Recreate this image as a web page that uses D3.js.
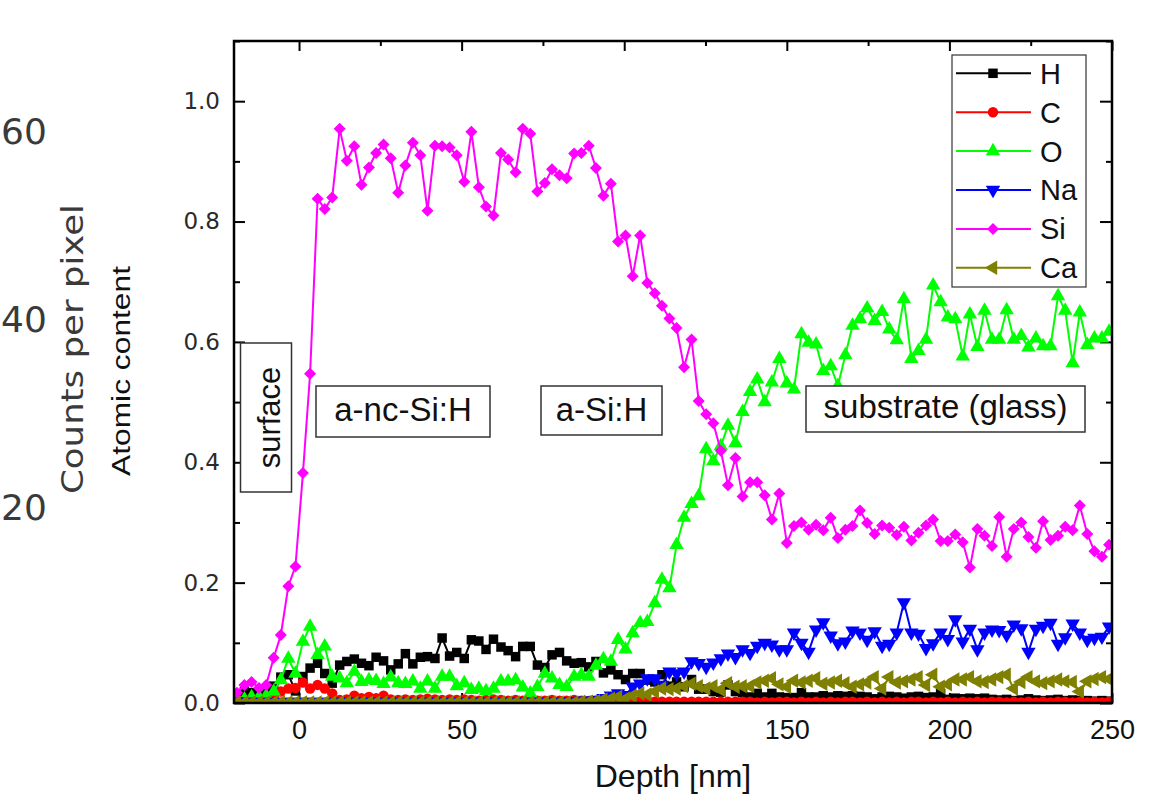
<!DOCTYPE html>
<html>
<head>
<meta charset="utf-8">
<script src="https://cdn.jsdelivr.net/npm/d3@7"></script>
<style>
  html, body { margin: 0; padding: 0; background: #fff; }
  svg { display: block; }
</style>
</head>
<body>
<svg id="chart" width="1164" height="805"></svg>
<script>
// depth of each sputter step [nm]
var depth = [
  -19.1, -16.8, -14.6, -12.3, -10.1, -7.8, -5.6, -3.3, -1.1, 1.2,
  3.4, 5.7, 7.9, 10.2, 12.5, 14.7, 17.0, 19.2, 21.5, 23.7,
  26.0, 28.2, 30.5, 32.7, 35.0, 37.3, 39.5, 41.8, 44.0, 46.3,
  48.5, 50.8, 53.0, 55.3, 57.5, 59.8, 62.1, 64.3, 66.6, 68.8,
  71.1, 73.3, 75.6, 77.8, 80.1, 82.3, 84.6, 86.8, 89.1, 91.3,
  93.6, 95.9, 98.1, 100.4, 102.6, 104.9, 107.1, 109.4, 111.6, 113.9,
  116.1, 118.4, 120.7, 122.9, 125.2, 127.4, 129.7, 131.9, 134.2, 136.4,
  138.7, 140.9, 143.2, 145.4, 147.7, 150.0, 152.2, 154.5, 156.7, 159.0,
  161.2, 163.5, 165.7, 168.0, 170.2, 172.5, 174.7, 177.0, 179.3, 181.5,
  183.8, 186.0, 188.3, 190.5, 192.8, 195.0, 197.3, 199.5, 201.8, 204.1,
  206.3, 208.6, 210.8, 213.1, 215.3, 217.6, 219.8, 222.1, 224.3, 226.6,
  228.8, 231.1, 233.4, 235.6, 237.9, 240.1, 242.4, 244.6, 246.9, 249.1
];

var hydrogen = [
  0.013, 0.019, 0.017, 0.015, 0.019, 0.028, 0.043, 0.047, 0.020, 0.044,
  0.058, 0.066, 0.049, 0.033, 0.063, 0.069, 0.073, 0.066, 0.062, 0.076,
  0.070, 0.055, 0.065, 0.082, 0.065, 0.076, 0.077, 0.074, 0.108, 0.078,
  0.084, 0.074, 0.105, 0.103, 0.089, 0.106, 0.093, 0.087, 0.077, 0.094,
  0.094, 0.063, 0.059, 0.080, 0.084, 0.070, 0.066, 0.067, 0.060, 0.069,
  0.050, 0.055, 0.047, 0.039, 0.049, 0.049, 0.038, 0.035, 0.047, 0.028,
  0.035, 0.027, 0.039, 0.023, 0.023, 0.019, 0.018, 0.030, 0.019, 0.017,
  0.010, 0.016, 0.010, 0.016, 0.010, 0.009, 0.009, 0.017, 0.010, 0.010,
  0.012, 0.010, 0.012, 0.011, 0.012, 0.011, 0.010, 0.007, 0.010, 0.011,
  0.010, 0.008, 0.010, 0.011, 0.009, 0.010, 0.016, 0.006, 0.008, 0.007,
  0.008, 0.007, 0.008, 0.006, 0.005, 0.006, 0.004, 0.005, 0.007, 0.005,
  0.004, 0.005, 0.006, 0.004, 0.005, 0.004, 0.004, 0.003, 0.004, 0.003
];

var carbon = [
  0.004, 0.005, 0.006, 0.005, 0.006, 0.010, 0.019, 0.024, 0.025, 0.034,
  0.024, 0.030, 0.024, 0.016, 0.005, 0.006, 0.012, 0.008, 0.010, 0.008,
  0.012, 0.006, 0.005, 0.006, 0.005, 0.006, 0.007, 0.006, 0.005, 0.006,
  0.005, 0.006, 0.005, 0.004, 0.005, 0.006, 0.005, 0.004, 0.005, 0.004,
  0.005, 0.004, 0.004, 0.005, 0.004, 0.004, 0.005, 0.004, 0.003, 0.004,
  0.004, 0.003, 0.004, 0.003, 0.003, 0.004, 0.003, 0.002, 0.002, 0.002,
  0.002, 0.002, 0.002, 0.002, 0.002, 0.002, 0.002, 0.002, 0.002, 0.002,
  0.002, 0.001, 0.002, 0.001, 0.002, 0.002, 0.001, 0.002, 0.001, 0.002,
  0.001, 0.002, 0.001, 0.002, 0.002, 0.001, 0.002, 0.001, 0.002, 0.001,
  0.002, 0.001, 0.002, 0.002, 0.001, 0.002, 0.001, 0.002, 0.001, 0.002,
  0.001, 0.002, 0.001, 0.002, 0.002, 0.001, 0.002, 0.001, 0.002, 0.001,
  0.002, 0.001, 0.002, 0.002, 0.001, 0.002, 0.001, 0.002, 0.001, 0.002
];

var oxygen = [
  0.005, 0.006, 0.010, 0.010, 0.012, 0.019, 0.038, 0.074, 0.049, 0.102,
  0.127, 0.080, 0.094, 0.044, 0.041, 0.033, 0.052, 0.035, 0.038, 0.037,
  0.032, 0.043, 0.033, 0.032, 0.036, 0.024, 0.036, 0.024, 0.044, 0.044,
  0.028, 0.033, 0.022, 0.024, 0.020, 0.024, 0.036, 0.036, 0.038, 0.026,
  0.016, 0.027, 0.049, 0.041, 0.030, 0.027, 0.044, 0.047, 0.044, 0.062,
  0.073, 0.069, 0.105, 0.089, 0.116, 0.133, 0.135, 0.166, 0.205, 0.191,
  0.263, 0.308, 0.331, 0.344, 0.422, 0.402, 0.427, 0.461, 0.432, 0.484,
  0.517, 0.538, 0.500, 0.533, 0.572, 0.531, 0.521, 0.613, 0.599, 0.596,
  0.552, 0.560, 0.527, 0.578, 0.627, 0.638, 0.656, 0.635, 0.650, 0.621,
  0.603, 0.671, 0.572, 0.585, 0.604, 0.694, 0.666, 0.641, 0.638, 0.576,
  0.646, 0.592, 0.652, 0.604, 0.604, 0.653, 0.604, 0.610, 0.591, 0.606,
  0.593, 0.593, 0.676, 0.652, 0.565, 0.649, 0.595, 0.606, 0.606, 0.617
];

var sodium = [
  0.003, 0.002, 0.002, 0.002, 0.002, 0.002, 0.002, 0.002, 0.002, 0.002,
  0.002, 0.002, 0.002, 0.002, 0.002, 0.002, 0.002, 0.002, 0.002, 0.002,
  0.002, 0.002, 0.002, 0.002, 0.002, 0.002, 0.002, 0.002, 0.002, 0.002,
  0.002, 0.002, 0.002, 0.002, 0.002, 0.002, 0.002, 0.002, 0.002, 0.002,
  0.002, 0.002, 0.002, 0.002, 0.002, 0.003, 0.003, 0.004, 0.004, 0.005,
  0.008, 0.012, 0.016, 0.013, 0.027, 0.032, 0.041, 0.041, 0.030, 0.052,
  0.049, 0.052, 0.069, 0.066, 0.060, 0.067, 0.074, 0.082, 0.076, 0.089,
  0.083, 0.095, 0.100, 0.097, 0.089, 0.089, 0.117, 0.100, 0.085, 0.122,
  0.134, 0.112, 0.099, 0.102, 0.120, 0.117, 0.105, 0.119, 0.095, 0.098,
  0.117, 0.167, 0.117, 0.115, 0.091, 0.099, 0.117, 0.106, 0.139, 0.102,
  0.123, 0.089, 0.117, 0.122, 0.121, 0.113, 0.130, 0.124, 0.085, 0.123,
  0.128, 0.133, 0.098, 0.109, 0.132, 0.117, 0.105, 0.108, 0.110, 0.127
];

var silicon = [
  0.017, 0.030, 0.035, 0.025, 0.030, 0.075, 0.113, 0.194, 0.227, 0.382,
  0.547, 0.838, 0.821, 0.840, 0.954, 0.901, 0.925, 0.861, 0.890, 0.914,
  0.928, 0.905, 0.848, 0.893, 0.931, 0.910, 0.818, 0.926, 0.925, 0.923,
  0.910, 0.866, 0.949, 0.857, 0.825, 0.810, 0.914, 0.903, 0.882, 0.954,
  0.946, 0.850, 0.864, 0.887, 0.877, 0.872, 0.913, 0.914, 0.926, 0.889,
  0.843, 0.863, 0.767, 0.777, 0.709, 0.777, 0.698, 0.681, 0.660, 0.639,
  0.623, 0.558, 0.604, 0.502, 0.480, 0.465, 0.419, 0.362, 0.407, 0.343,
  0.367, 0.367, 0.345, 0.305, 0.348, 0.266, 0.294, 0.300, 0.288, 0.296,
  0.287, 0.308, 0.274, 0.288, 0.294, 0.320, 0.299, 0.281, 0.295, 0.291,
  0.279, 0.293, 0.270, 0.283, 0.295, 0.305, 0.269, 0.269, 0.280, 0.267,
  0.225, 0.289, 0.278, 0.261, 0.309, 0.243, 0.289, 0.300, 0.276, 0.258,
  0.302, 0.271, 0.278, 0.293, 0.287, 0.328, 0.281, 0.252, 0.243, 0.263
];

var calcium = [
  0.001, 0.001, 0.001, 0.001, 0.001, 0.001, 0.001, 0.001, 0.001, 0.001,
  0.001, 0.001, 0.001, 0.001, 0.001, 0.001, 0.001, 0.001, 0.001, 0.001,
  0.001, 0.001, 0.001, 0.001, 0.001, 0.001, 0.001, 0.001, 0.001, 0.001,
  0.001, 0.001, 0.001, 0.001, 0.001, 0.001, 0.001, 0.001, 0.001, 0.001,
  0.001, 0.001, 0.001, 0.001, 0.001, 0.001, 0.001, 0.002, 0.002, 0.003,
  0.006, 0.007, 0.010, 0.007, 0.012, 0.016, 0.014, 0.019, 0.024, 0.023,
  0.024, 0.028, 0.032, 0.028, 0.024, 0.028, 0.022, 0.033, 0.027, 0.028,
  0.028, 0.034, 0.037, 0.041, 0.031, 0.027, 0.037, 0.034, 0.037, 0.041,
  0.032, 0.034, 0.037, 0.033, 0.027, 0.031, 0.034, 0.043, 0.024, 0.043,
  0.034, 0.036, 0.039, 0.043, 0.030, 0.047, 0.027, 0.031, 0.039, 0.039,
  0.043, 0.036, 0.035, 0.039, 0.043, 0.047, 0.024, 0.035, 0.043, 0.036,
  0.033, 0.036, 0.039, 0.036, 0.035, 0.019, 0.036, 0.040, 0.043, 0.040
];

var elements = ['H', 'C', 'O', 'Na', 'Si', 'Ca'];
var elementValues = [hydrogen, carbon, oxygen, sodium, silicon, calcium];
var elementColors = ['#000000', '#ff0000', '#00ff00', '#0000ff', '#ff00ff', '#808000'];

var xTicks = [0, 50, 100, 150, 200, 250];
var yTicks = [0, 0.2, 0.4, 0.6, 0.8, 1.0];
var layerLabels = ['a-nc-Si:H', 'a-Si:H', 'substrate (glass)'];
var surfaceLabel = 'surface';
var countTicks = ['60', '40', '20'];

;(function() {

  var svg = d3.select('#chart');

  var margin = { left: 234, right: 1112, top: 41, bottom: 703 };

  var x = d3.scaleLinear()
    .domain([-20, 250])
    .range([margin.left, margin.right]);

  var y = d3.scaleLinear()
    .domain([0, 1.1])
    .range([margin.bottom, margin.top]);

  // ghost labels left over from the counts plot underneath
  var ghost = svg.append('g')
    .attr('fill', '#3a3a3a')
    .style('font-family', '"DejaVu Sans", sans-serif');

  ghost.selectAll('text.count')
    .data(countTicks)
    .enter()
    .append('text')
    .attr('class', 'count')
    .attr('x', 1)
    .attr('y', function(d, i) { return [131, 319, 507][i]; })
    .attr('dy', '0.36em')
    .style('font-size', '36px')
    .text(function(d) { return d; });

  ghost.append('text')
    .attr('transform', 'translate(83, 349) rotate(-90)')
    .attr('text-anchor', 'middle')
    .attr('textLength', 290)
    .attr('lengthAdjust', 'spacingAndGlyphs')
    .style('font-size', '31px')
    .text('Counts per pixel');

  svg.append('text')
    .attr('transform', 'translate(130, 371) rotate(-90)')
    .attr('text-anchor', 'middle')
    .attr('textLength', 210)
    .attr('lengthAdjust', 'spacingAndGlyphs')
    .style('font-family', '"Liberation Sans", Arial, sans-serif')
    .style('font-size', '25px')
    .attr('fill', '#111')
    .text('Atomic content');

  // axes
  function styleAxis(g) {
    g.select('.domain').remove();
    g.selectAll('.tick line').attr('stroke', '#000').attr('stroke-width', 2);
  }

  var xMinor = [-25, 25, 75, 125, 175, 225].filter(function(d) { return d > -20; });
  var yMinor = [0.1, 0.3, 0.5, 0.7, 0.9, 1.1];

  svg.append('g')
    .attr('transform', 'translate(0,' + margin.bottom + ')')
    .call(d3.axisBottom(x).tickValues(xTicks).tickSize(-10).tickPadding(17).tickFormat(d3.format('d')))
    .call(styleAxis)
    .call(function(g) {
      g.selectAll('text')
        .attr('fill', '#111')
        .style('font-family', '"Liberation Sans", Arial, sans-serif')
        .style('font-size', '27px');
    });

  svg.append('g')
    .attr('transform', 'translate(0,' + margin.bottom + ')')
    .call(d3.axisBottom(x).tickValues(xMinor).tickSize(-5).tickFormat(''))
    .call(styleAxis);

  svg.append('g')
    .attr('transform', 'translate(0,' + margin.top + ')')
    .call(d3.axisTop(x).tickValues(xTicks).tickSize(-10).tickFormat(''))
    .call(styleAxis);

  svg.append('g')
    .attr('transform', 'translate(0,' + margin.top + ')')
    .call(d3.axisTop(x).tickValues(xMinor).tickSize(-5).tickFormat(''))
    .call(styleAxis);

  svg.append('g')
    .attr('transform', 'translate(' + margin.left + ',0)')
    .call(d3.axisLeft(y).tickValues(yTicks).tickSize(-11).tickPadding(14).tickFormat(d3.format('.1f')))
    .call(styleAxis)
    .call(function(g) {
      g.selectAll('text')
        .attr('fill', '#2a2a2a')
        .style('font-family', '"DejaVu Sans", sans-serif')
        .style('font-size', '23px');
    });

  svg.append('g')
    .attr('transform', 'translate(' + margin.left + ',0)')
    .call(d3.axisLeft(y).tickValues(yMinor).tickSize(-6).tickFormat(''))
    .call(styleAxis);

  svg.append('g')
    .attr('transform', 'translate(' + margin.right + ',0)')
    .call(d3.axisRight(y).tickValues(yTicks).tickSize(-12).tickFormat(''))
    .call(styleAxis);

  svg.append('g')
    .attr('transform', 'translate(' + margin.right + ',0)')
    .call(d3.axisRight(y).tickValues(yMinor).tickSize(-6).tickFormat(''))
    .call(styleAxis);

  svg.append('text')
    .attr('x', 673)
    .attr('y', 787)
    .attr('text-anchor', 'middle')
    .attr('fill', '#111')
    .style('font-family', '"Liberation Sans", Arial, sans-serif')
    .style('font-size', '32px')
    .text('Depth [nm]');

  // series
  svg.append('clipPath')
    .attr('id', 'plot-clip')
    .append('rect')
    .attr('x', margin.left)
    .attr('y', margin.top)
    .attr('width', margin.right - margin.left)
    .attr('height', margin.bottom - margin.top);

  var symbols = [
    { type: d3.symbolSquare, size: 90, rotate: 0 },
    { type: d3.symbolCircle, size: 85, rotate: 0 },
    { type: d3.symbolTriangle, size: 90, rotate: 0 },
    { type: d3.symbolTriangle, size: 90, rotate: 180 },
    { type: d3.symbolSquare, size: 72, rotate: 45 },
    { type: d3.symbolTriangle, size: 90, rotate: -90 }
  ];

  var series = elements.map(function(name, k) {
    return {
      name: name,
      color: elementColors[k],
      symbol: symbols[k],
      points: depth.map(function(d, i) {
        return { depth: d, value: elementValues[k][i] };
      }).filter(function(p) { return p.value !== undefined; })
    };
  });

  var line = d3.line()
    .x(function(d) { return x(d.depth); })
    .y(function(d) { return y(d.value); });

  var plot = svg.append('g')
    .attr('clip-path', 'url(#plot-clip)');

  var groups = plot.selectAll('.element')
    .data(series)
    .enter()
    .append('g')
    .attr('class', 'element');

  groups.append('path')
    .attr('fill', 'none')
    .attr('stroke', function(d) { return d.color; })
    .attr('stroke-width', 2)
    .attr('d', function(d) { return line(d.points); });

  groups.each(function(s) {
    d3.select(this).selectAll('path.marker')
      .data(s.points)
      .enter()
      .append('path')
      .attr('class', 'marker')
      .attr('fill', s.color)
      .attr('d', d3.symbol().type(s.symbol.type).size(s.symbol.size))
      .attr('transform', function(d) {
        return 'translate(' + x(d.depth) + ',' + y(d.value) + ') rotate(' + s.symbol.rotate + ')';
      });
  });

  // frame
  svg.append('rect')
    .attr('x', margin.left)
    .attr('y', margin.top)
    .attr('width', margin.right - margin.left)
    .attr('height', margin.bottom - margin.top)
    .attr('fill', 'none')
    .attr('stroke', '#000')
    .attr('stroke-width', 2.5);

  // layer annotations
  var boxes = [
    { x: 316, y: 386, w: 174, h: 51 },
    { x: 541, y: 386, w: 121, h: 49 },
    { x: 806, y: 386, w: 279, h: 46 }
  ];

  var notes = svg.append('g')
    .style('font-family', '"Liberation Sans", Arial, sans-serif')
    .style('font-size', '33px');

  notes.selectAll('rect.note')
    .data(layerLabels)
    .enter()
    .append('rect')
    .attr('class', 'note')
    .attr('x', function(d, i) { return boxes[i].x; })
    .attr('y', function(d, i) { return boxes[i].y; })
    .attr('width', function(d, i) { return boxes[i].w; })
    .attr('height', function(d, i) { return boxes[i].h; })
    .attr('fill', '#fff')
    .attr('stroke', '#333')
    .attr('stroke-width', 1.5);

  notes.selectAll('text.note')
    .data(layerLabels)
    .enter()
    .append('text')
    .attr('class', 'note')
    .attr('x', function(d, i) { return boxes[i].x + boxes[i].w / 2; })
    .attr('y', function(d, i) { return i === 2 ? 418 : 421; })
    .attr('text-anchor', 'middle')
    .attr('fill', '#111')
    .text(function(d) { return d; });

  notes.append('rect')
    .attr('x', 240.5)
    .attr('y', 343)
    .attr('width', 51)
    .attr('height', 149)
    .attr('fill', '#fff')
    .attr('stroke', '#333')
    .attr('stroke-width', 1.5);

  notes.append('text')
    .attr('transform', 'translate(280, 417.5) rotate(-90)')
    .attr('text-anchor', 'middle')
    .attr('fill', '#111')
    .style('font-size', '31px')
    .text(surfaceLabel);

  // legend
  var legend = svg.append('g');

  legend.append('rect')
    .attr('x', 952)
    .attr('y', 55)
    .attr('width', 134)
    .attr('height', 232)
    .attr('fill', '#fff')
    .attr('stroke', '#333')
    .attr('stroke-width', 1.2);

  var rows = legend.selectAll('g.row')
    .data(series)
    .enter()
    .append('g')
    .attr('class', 'row')
    .attr('transform', function(d, i) { return 'translate(0,' + (73.3 + i * 38.9) + ')'; });

  rows.append('line')
    .attr('x1', 956)
    .attr('x2', 1031)
    .attr('stroke', function(d) { return d.color; })
    .attr('stroke-width', 2);

  rows.append('path')
    .attr('fill', function(d) { return d.color; })
    .attr('d', function(d) { return d3.symbol().type(d.symbol.type).size(d.symbol.size)(); })
    .attr('transform', function(d) { return 'translate(993,0) rotate(' + d.symbol.rotate + ')'; });

  rows.append('text')
    .attr('x', 1040)
    .attr('dy', '0.36em')
    .attr('fill', '#111')
    .style('font-family', '"Liberation Sans", Arial, sans-serif')
    .style('font-size', '29px')
    .text(function(d) { return d.name; });

})();
</script>
</body>
</html>
